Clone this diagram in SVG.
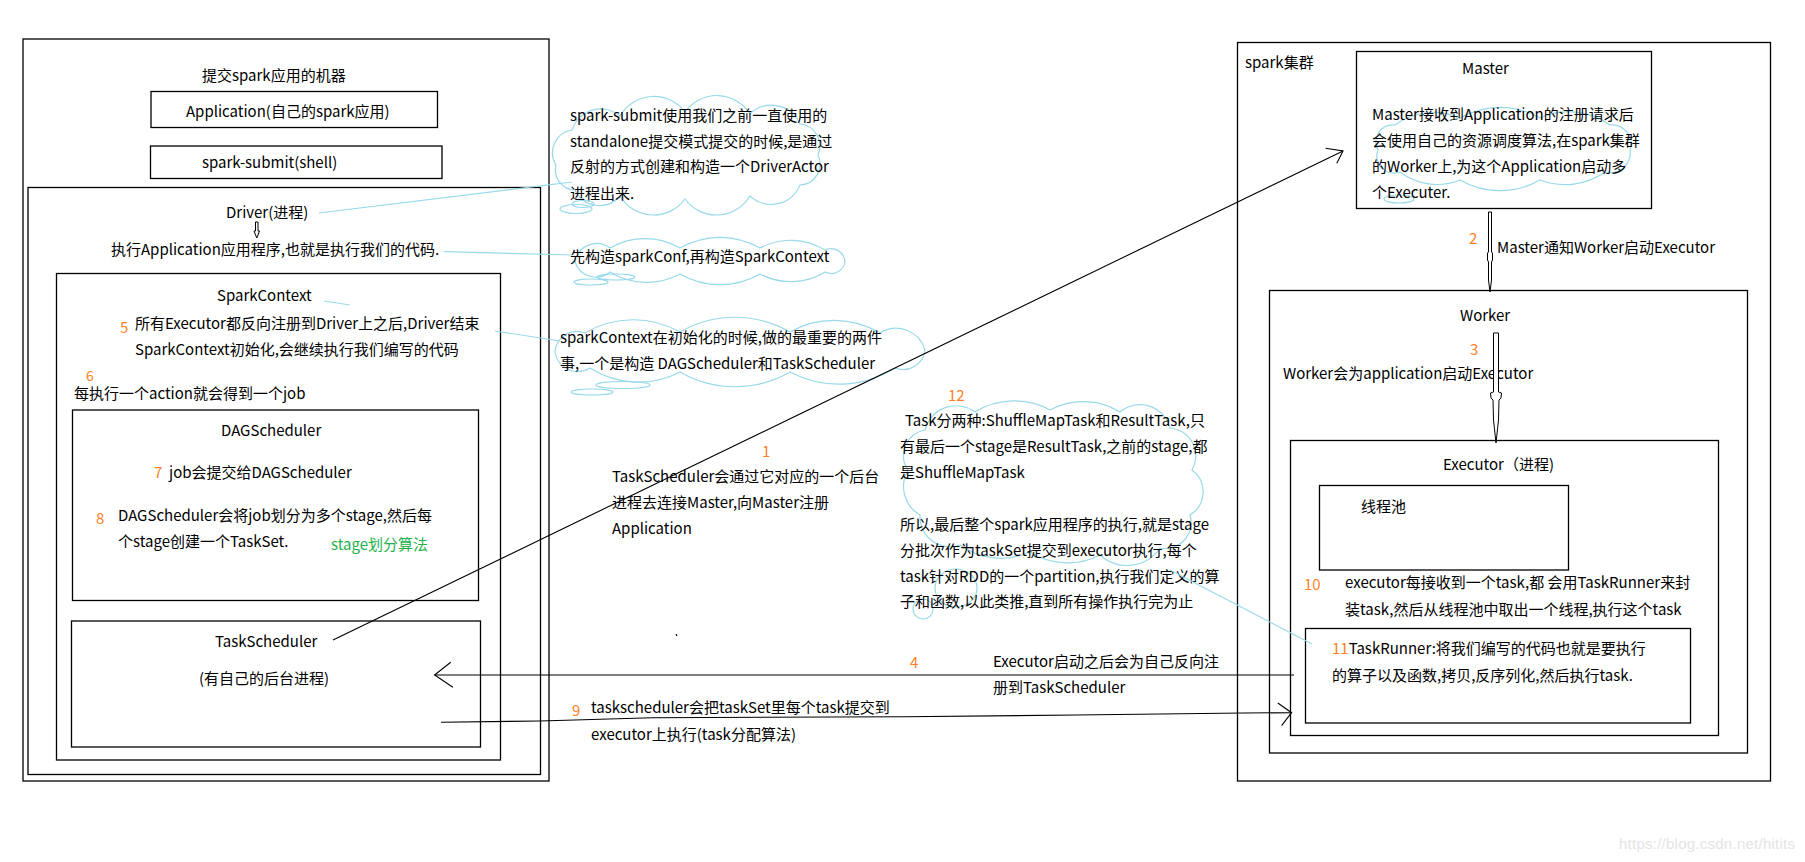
<svg xmlns="http://www.w3.org/2000/svg" width="1805" height="862" viewBox="0 0 1805 862">
<style>
text{font-family:"Noto Sans CJK SC","Liberation Sans",sans-serif;font-size:15px;fill:#000}
.o{fill:#FF7F27}
.g{fill:#22B14C}
.box{fill:none;stroke:#000;stroke-width:1.3}
.ln{fill:none;stroke:#000;stroke-width:1.1}
.cy{fill:none;stroke:#99D9EA;stroke-width:1.2}
.ha{fill:#fff;stroke:#000;stroke-width:1}
.wm{font-family:"Liberation Sans",sans-serif;font-size:15px;fill:#e4e4e4}
</style>
<rect width="1805" height="862" fill="#fff"/>

<g id="machine">
<rect class="box" x="23" y="39" width="526" height="742"/>
<text x="202" y="81">提交spark应用的机器</text>
</g>
<g id="application">
<rect class="box" x="151" y="91.5" width="286.5" height="36"/>
<text x="186" y="117">Application(自己的spark应用)</text>
</g>
<g id="spark-submit">
<rect class="box" x="150.5" y="146" width="291.5" height="32.5"/>
<text x="202" y="168">spark-submit(shell)</text>
</g>
<g id="driver">
<rect class="box" x="28" y="187.5" width="512.5" height="587"/>
<text x="226" y="218">Driver(进程)</text>
<polygon class="ha" points="255.5,222 258,222 258,231 259.5,231 256.8,238 254,231 255.5,231"/>
<text x="111" y="255">执行Application应用程序,也就是执行我们的代码.</text>
</g>
<g id="sparkcontext">
<rect class="box" x="56.5" y="273.5" width="444" height="486.5"/>
<text x="217" y="301">SparkContext</text>
<text class="o" x="120" y="333">5</text>
<text x="135" y="329">所有Executor都反向注册到Driver上之后,Driver结束</text>
<text x="135" y="355">SparkContext初始化,会继续执行我们编写的代码</text>
<text class="o" x="86" y="381" style="font-size:14px">6</text>
<text x="74" y="399">每执行一个action就会得到一个job</text>
</g>
<g id="dagscheduler">
<rect class="box" x="72.5" y="410" width="406" height="190.5"/>
<text x="221" y="436">DAGScheduler</text>
<text class="o" x="154" y="478">7</text>
<text x="169" y="478">job会提交给DAGScheduler</text>
<text class="o" x="96" y="524">8</text>
<text x="118" y="521">DAGScheduler会将job划分为多个stage,然后每</text>
<text x="118" y="547">个stage创建一个TaskSet.</text>
<text class="g" x="331" y="550">stage划分算法</text>
</g>
<g id="taskscheduler">
<rect class="box" x="71.5" y="621" width="409" height="126"/>
<text x="215" y="647">TaskScheduler</text>
<text x="199" y="684">(有自己的后台进程)</text>
</g>

<g id="note-driveractor">
<path class="cy" d="M556,165 A23,23 0 0 1 572,130 A30,30 0 0 1 620,116 A39,39 0 0 1 685,112 A39,39 0 0 1 750,114 A31,31 0 0 1 800,124 A22,22 0 0 1 818,155 A21,21 0 0 1 800,185 A31,31 0 0 1 750,196 A39,39 0 0 1 685,199 A39,39 0 0 1 620,196 A27,27 0 0 1 575,190 A20,20 0 0 1 556,165 Z"/>
<ellipse class="cy" cx="576" cy="209" rx="16" ry="4.5"/>
<ellipse class="cy" cx="583" cy="204" rx="11" ry="3.5"/>
<text x="570" y="121">spark-submit使用我们之前一直使用的</text>
<text x="570" y="147">standalone提交模式提交的时候,是通过</text>
<text x="570" y="172">反射的方式创建和构造一个DriverActor</text>
<text x="570" y="199">进程出来.</text>
</g>
<g id="note-sparkconf">
<path class="cy" d="M575,262 A22,22 0 0 1 610,248 A70,70 0 0 1 680,248 A80,80 0 0 1 760,248 A65,65 0 0 1 825,250 A14,14 0 0 1 845,262 A14,14 0 0 1 825,272 A65,65 0 0 1 760,274 A80,80 0 0 1 680,274 A70,70 0 0 1 610,272 A22,22 0 0 1 575,262 Z"/>
<ellipse class="cy" cx="591" cy="282" rx="17" ry="3"/>
<ellipse class="cy" cx="616" cy="277" rx="19" ry="3"/>
<text x="570" y="262">先构造sparkConf,再构造SparkContext</text>
</g>
<g id="note-sparkcontext">
<path class="cy" d="M555,352 A22,22 0 0 1 585,333 A95,95 0 0 1 680,332 A110,110 0 0 1 790,332 A90,90 0 0 1 880,333 A30,30 0 0 1 925,350 A22,22 0 0 1 895,368 A105,105 0 0 1 790,372 A110,110 0 0 1 680,372 A90,90 0 0 1 590,368 A23,23 0 0 1 555,352 Z"/>
<ellipse class="cy" cx="623" cy="385" rx="27" ry="3.5"/>
<ellipse class="cy" cx="592" cy="392" rx="21" ry="3"/>
<text x="560" y="343">sparkContext在初始化的时候,做的最重要的两件</text>
<text x="560" y="369">事,一个是构造 DAGScheduler和TaskScheduler</text>
</g>
<g id="note-connect">
<text class="o" x="762" y="457">1</text>
<text x="612" y="482">TaskScheduler会通过它对应的一个后台</text>
<text x="612" y="508">进程去连接Master,向Master注册</text>
<text x="612" y="534">Application</text>
</g>
<g id="note-task">
<path class="cy" d="M908,470 A26,26 0 0 1 925,430 A32,32 0 0 1 975,412 A75,75 0 0 1 1050,410 A70,70 0 0 1 1120,412 A31,31 0 0 1 1170,428 A28,28 0 0 1 1192,470 A27,27 0 0 1 1190,515 A26,26 0 0 1 1160,548 A40,40 0 0 1 1100,555 A70,70 0 0 1 1030,552 A70,70 0 0 1 960,545 A30,30 0 0 1 920,515 A33,33 0 0 1 908,470 Z"/>
<ellipse class="cy" cx="956" cy="588" rx="21" ry="19"/>
<circle class="cy" cx="923" cy="609" r="10"/>
<text class="o" x="948" y="401">12</text>
<text x="905" y="426">Task分两种:ShuffleMapTask和ResultTask,只</text>
<text x="900" y="452">有最后一个stage是ResultTask,之前的stage,都</text>
<text x="900" y="478">是ShuffleMapTask</text>
<text x="900" y="530">所以,最后整个spark应用程序的执行,就是stage</text>
<text x="900" y="556">分批次作为taskSet提交到executor执行,每个</text>
<text x="900" y="582">task针对RDD的一个partition,执行我们定义的算</text>
<text x="900" y="607">子和函数,以此类推,直到所有操作执行完为止</text>
</g>
<g id="note-register">
<text class="o" x="910" y="668">4</text>
<text x="993" y="667">Executor启动之后会为自己反向注</text>
<text x="993" y="693">册到TaskScheduler</text>
</g>
<g id="note-submit">
<text class="o" x="572" y="716">9</text>
<text x="591" y="713">taskscheduler会把taskSet里每个task提交到</text>
<text x="591" y="740">executor上执行(task分配算法)</text>
</g>

<g id="cluster">
<rect class="box" x="1237.5" y="42.5" width="533" height="738.5"/>
<text x="1245" y="68">spark集群</text>
</g>
<g id="master">
<rect class="box" x="1356.5" y="51.5" width="295" height="157"/>
<text x="1462" y="74">Master</text>
<path class="cy" d="M1378,150 A17,17 0 0 1 1395,125 A65,65 0 0 1 1460,118 A80,80 0 0 1 1540,118 A70,70 0 0 1 1610,125 A19,19 0 0 1 1630,150 A20,20 0 0 1 1605,172 A70,70 0 0 1 1540,180 A80,80 0 0 1 1460,180 A61,61 0 0 1 1400,172 A17,17 0 0 1 1378,150 Z"/>
<ellipse class="cy" cx="1399" cy="199" rx="15" ry="4"/>
<text x="1372" y="120">Master接收到Application的注册请求后</text>
<text x="1372" y="146">会使用自己的资源调度算法,在spark集群</text>
<text x="1372" y="172">的Worker上,为这个Application启动多</text>
<text x="1372" y="198">个Executer.</text>
</g>
<g id="worker">
<rect class="box" x="1269.5" y="290.5" width="478" height="462.5"/>
<text x="1460" y="321">Worker</text>
<text class="o" x="1470" y="355">3</text>
<text x="1283" y="379">Worker会为application启动Executor</text>
</g>
<g id="executor">
<rect class="box" x="1290.5" y="440.5" width="428" height="295"/>
<text x="1443" y="470">Executor（进程)</text>
<text class="o" x="1304" y="590">10</text>
<text x="1345" y="588">executor每接收到一个task,都 会用TaskRunner来封</text>
<text x="1345" y="615">装task,然后从线程池中取出一个线程,执行这个task</text>
</g>
<g id="threadpool">
<rect class="box" x="1319.5" y="485.5" width="249" height="84.5"/>
<text x="1361" y="512">线程池</text>
</g>
<g id="taskrunner">
<rect class="box" x="1305.5" y="628.5" width="385" height="94.5"/>
<text x="1332" y="654"><tspan class="o">11</tspan>TaskRunner:将我们编写的代码也就是要执行</text>
<text x="1332" y="681">的算子以及函数,拷贝,反序列化,然后执行task.</text>
</g>
<g id="label-2">
<text class="o" x="1469" y="244">2</text>
<text x="1497" y="253">Master通知Worker启动Executor</text>
</g>

<g id="connectors">
<line class="cy" x1="319" y1="213" x2="572" y2="182"/>
<line class="cy" x1="444" y1="251.7" x2="572" y2="255"/>
<line class="cy" x1="324" y1="301" x2="350" y2="305"/>
<line class="cy" x1="495" y1="331" x2="560" y2="341"/>
<line class="cy" x1="1170" y1="570" x2="1312" y2="644"/>
<line class="ln" x1="333" y1="640" x2="1343" y2="151"/>
<polyline class="ln" points="1325.6,148.3 1343,151 1336.8,163.3"/>
<line class="ln" x1="434.6" y1="675" x2="1294" y2="675"/>
<polyline class="ln" points="450.7,662.3 434.6,675 452.9,687.3"/>
<polyline class="ln" points="441,722.3 540,721 652,717.7 905,716.7 1076,715 1244,713 1291.6,712.7"/>
<polyline class="ln" points="1277.8,703 1291.6,712.7 1281.6,725.7"/>
<polygon class="ha" points="1488.5,212 1491.5,212 1491.5,252 1492.5,253 1492.5,260 1491.5,262 1491.5,280 1490,292 1488.5,280 1488.5,262 1487.5,260 1487.5,253 1488.5,252"/>
<polygon class="ha" points="1493.5,333 1498.5,333 1498.5,392 1501.5,393 1501,398 1499,400 1498.5,420 1496,443 1493.5,420 1493,400 1491,398 1490.5,393 1493.5,392"/>
<line class="ln" x1="676" y1="634" x2="677" y2="636"/>
</g>
<text class="wm" x="1619" y="849" textLength="176">https://blog.csdn.net/hitits</text>
</svg>
